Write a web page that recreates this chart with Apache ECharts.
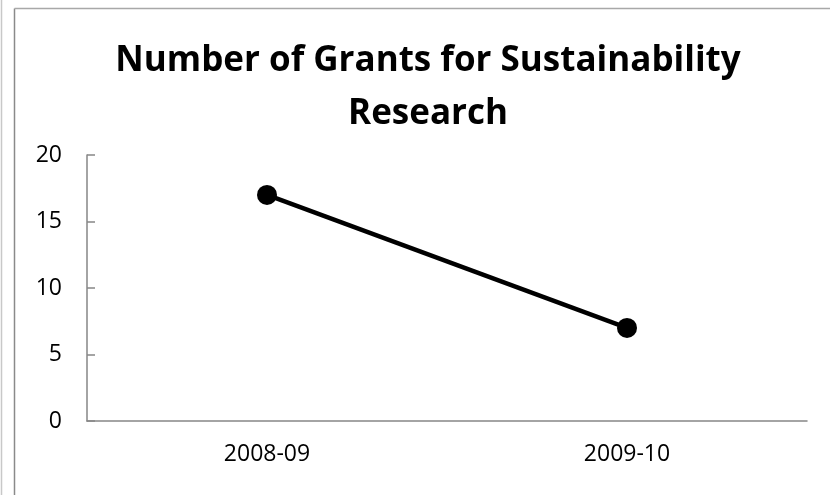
<!DOCTYPE html>
<html>
<head>
<meta charset="utf-8">
<style>
  html, body { margin: 0; padding: 0; background: #fff; }
  #chart { width: 830px; height: 495px; }
</style>
<script src="https://cdn.jsdelivr.net/npm/echarts@6/dist/echarts.min.js"></script>
</head>
<body>
<div id="chart"></div>
<script>
// Grant counts per academic year
const years = ['2008-09', '2009-10'];
const grantCounts = [17, 7];
const yTicks = { min: 0, max: 20, interval: 5 };
const chartTitle = 'Number of Grants for Sustainability\nResearch';

const chart = echarts.init(document.getElementById('chart'), null, { renderer: 'canvas' });
const axisGray = '#868686';
const labelFont = '"Open Sans", "Liberation Sans", sans-serif';

chart.setOption({
  backgroundColor: '#ffffff',
  animation: false,
  title: {
    text: chartTitle,
    left: 423,
    top: 30,
    textAlign: 'center',
    textStyle: {
      fontFamily: labelFont,
      fontWeight: 'bold',
      fontSize: 35,
      lineHeight: 53,
      color: '#000'
    }
  },
  graphic: [
    // outer frame edges
    { type: 'line', shape: { x1: 1.5, y1: 0, x2: 1.5, y2: 495 }, style: { stroke: '#c8c8c8', lineWidth: 1.5 }, silent: true },
    { type: 'line', shape: { x1: 14.5, y1: 8.5, x2: 14.5, y2: 495 }, style: { stroke: '#8a8a8a', lineWidth: 1.5 }, silent: true },
    { type: 'line', shape: { x1: 14.5, y1: 8.5, x2: 830, y2: 8.5 }, style: { stroke: '#a8a8a8', lineWidth: 1.5 }, silent: true }
  ],
  grid: { left: 87, right: 23, top: 155, bottom: 74, containLabel: false },
  xAxis: {
    type: 'category',
    data: years,
    boundaryGap: true,
    axisLine: { lineStyle: { color: axisGray, width: 1.5 } },
    axisTick: { show: false },
    axisLabel: { color: '#000', fontFamily: labelFont, fontSize: 23, margin: 22 }
  },
  yAxis: {
    type: 'value',
    min: yTicks.min,
    max: yTicks.max,
    interval: yTicks.interval,
    axisLine: { show: true, lineStyle: { color: axisGray, width: 1.5 } },
    axisTick: { show: true, inside: true, length: 8, lineStyle: { color: axisGray, width: 1.5 } },
    splitLine: { show: false },
    axisLabel: { color: '#000', fontFamily: labelFont, fontSize: 23, margin: 25 }
  },
  series: [{
    type: 'line',
    data: grantCounts,
    symbol: 'circle',
    symbolSize: 20,
    lineStyle: { color: '#000', width: 4.5 },
    itemStyle: { color: '#000' }
  }]
});
</script>
</body>
</html>
